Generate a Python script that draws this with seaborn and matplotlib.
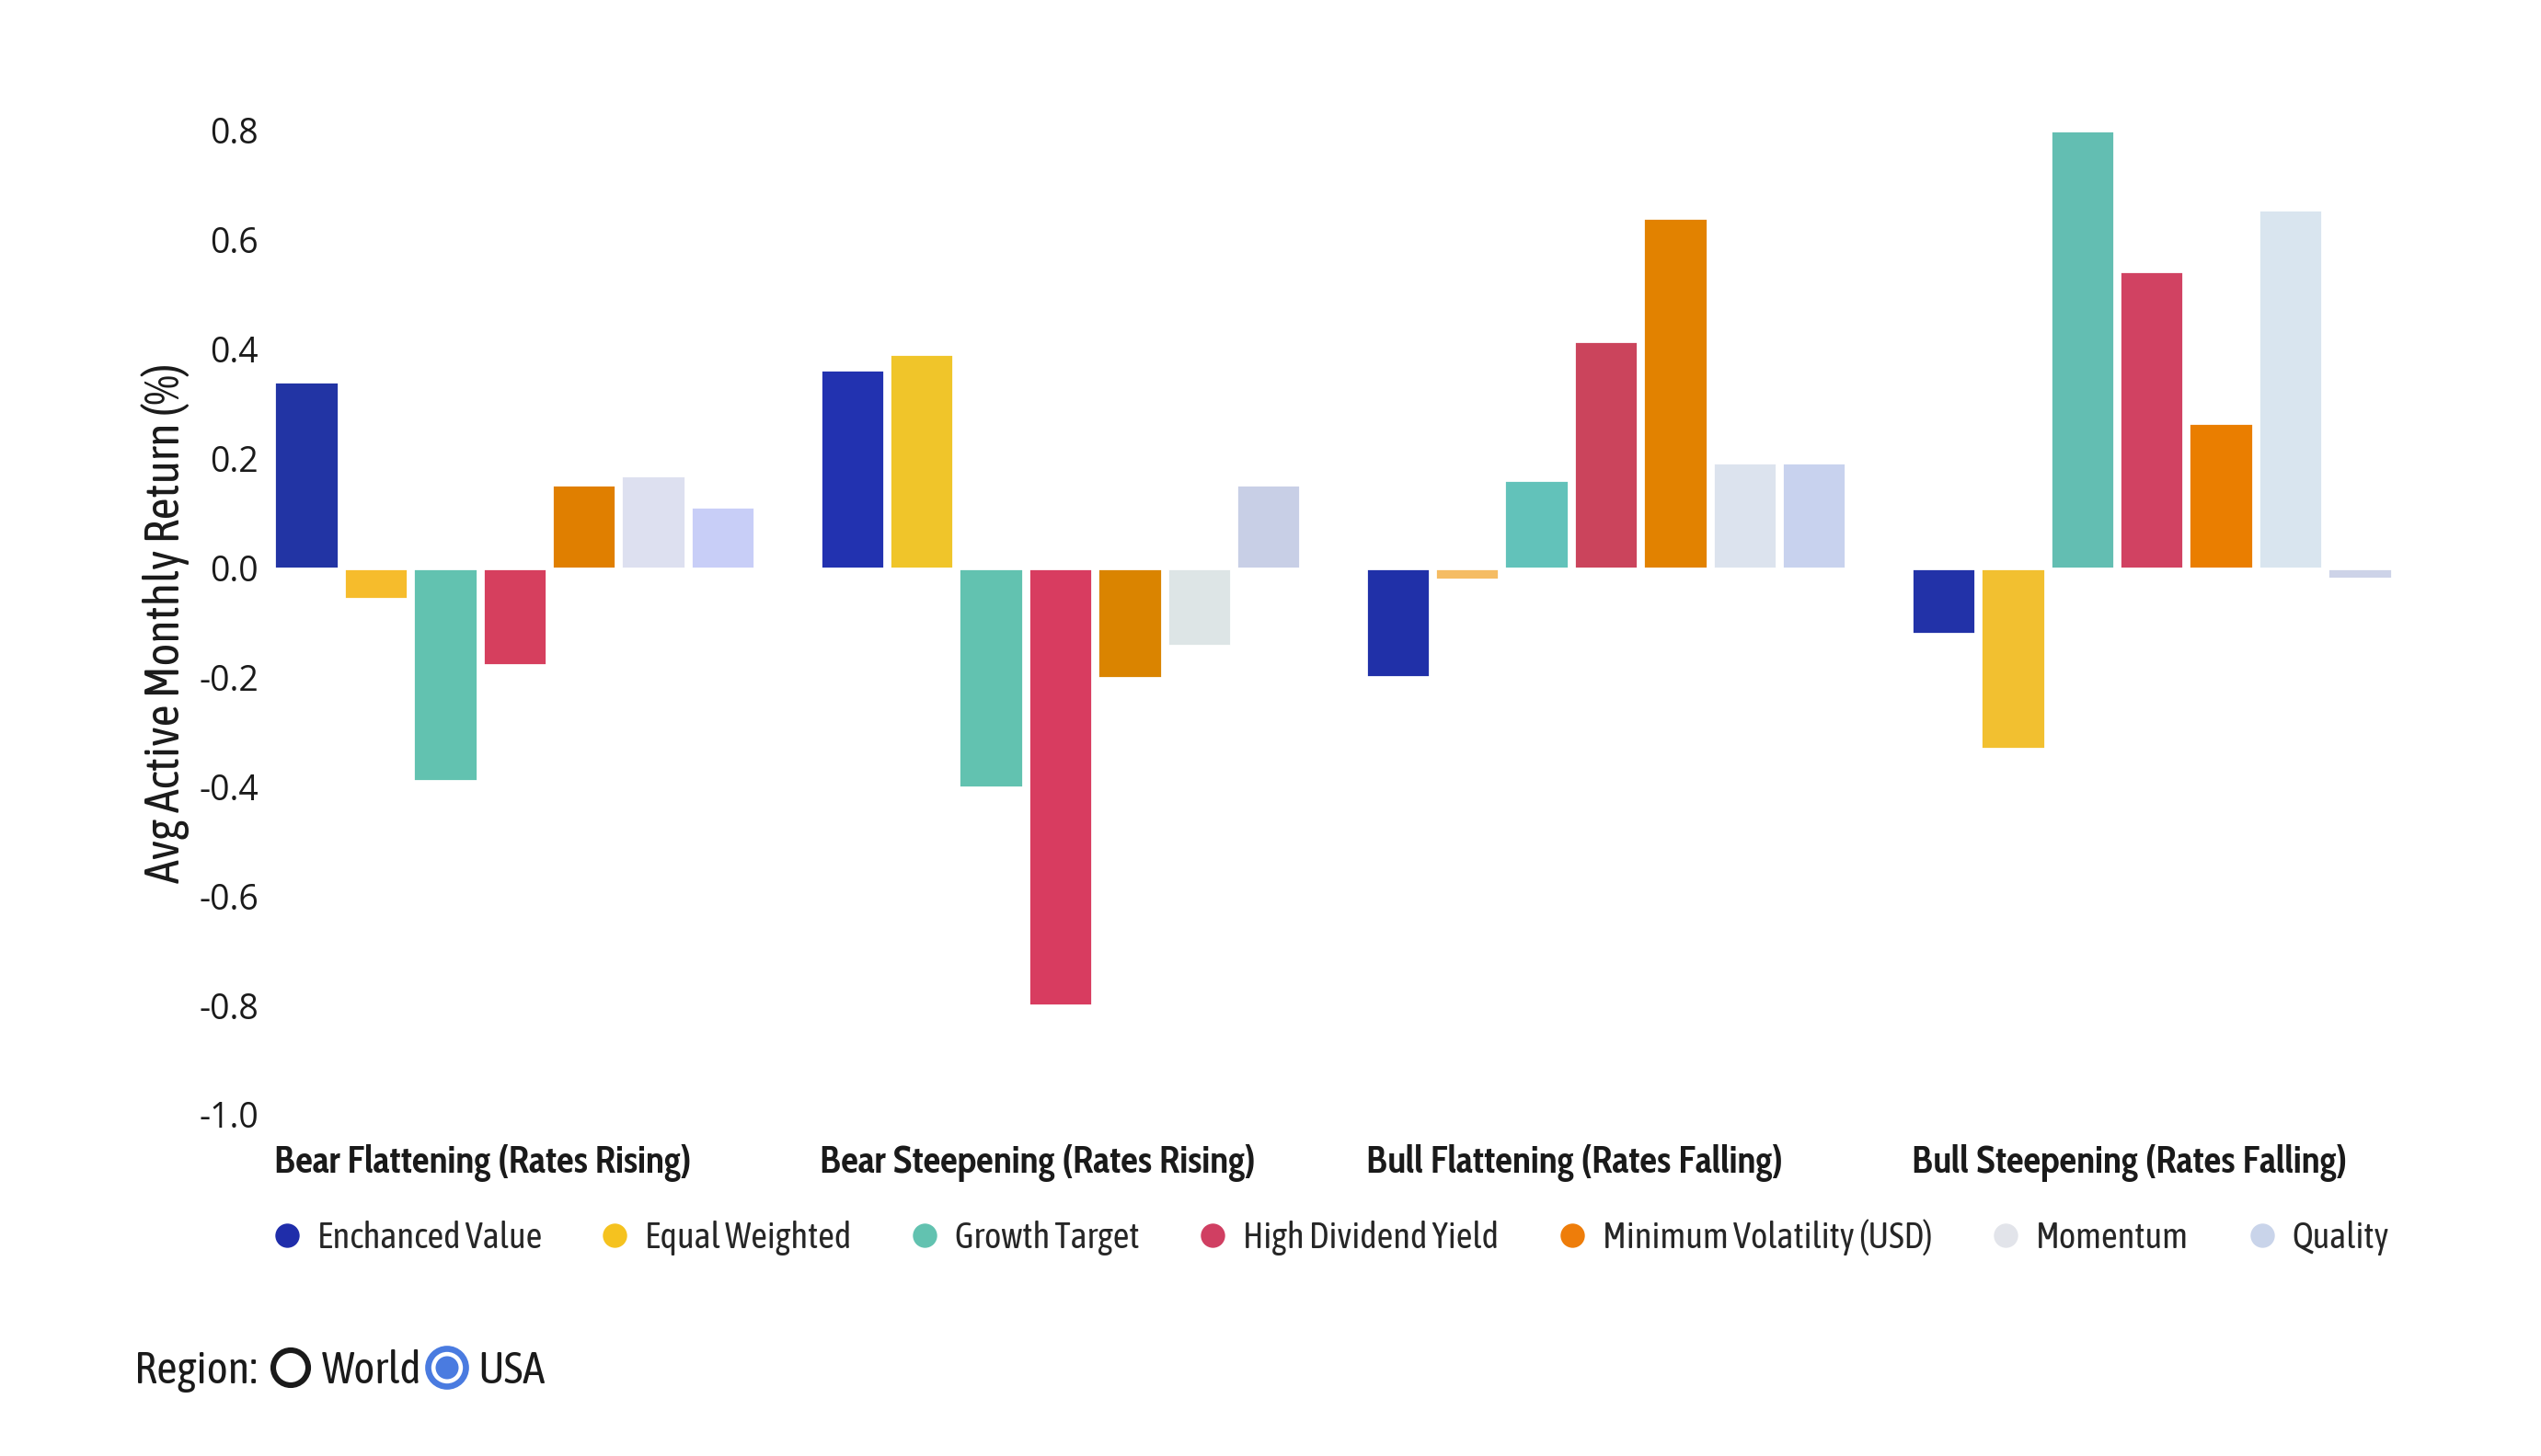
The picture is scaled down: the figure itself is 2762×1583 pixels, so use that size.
import numpy as np
import pandas as pd
import matplotlib
matplotlib.use('Agg')
import matplotlib.pyplot as plt
import seaborn as sns
from matplotlib.lines import Line2D
from matplotlib.patches import Circle

# Datos
categories = ['Bear Flattening (Rates Rising)', 'Bear Steepening (Rates Rising)',
              'Bull Flattening (Rates Falling)', 'Bull Steepening (Rates Falling)']
series = ['Enchanced Value', 'Equal Weighted', 'Growth Target', 'High Dividend Yield',
          'Minimum Volatility (USD)', 'Momentum', 'Quality']

enhanced_value = [0.34, 0.362, -0.20, -0.12]
equal_weighted = [-0.057, 0.391, -0.021, -0.331]
growth_target = [-0.39, -0.401, 0.161, 0.80]
high_dividend_yield = [-0.178, -0.799, 0.414, 0.543]
minimum_volatility = [0.152, -0.201, 0.640, 0.265]
momentum = [0.17, -0.142, 0.193, 0.656]
quality = [0.112, 0.153, 0.193, -0.02]

y_ticks = [-1.0, -0.8, -0.6, -0.4, -0.2, 0.0, 0.2, 0.4, 0.6, 0.8]
y_tick_labels = ['-1.0', '-0.8', '-0.6', '-0.4', '-0.2', '0.0', '0.2', '0.4', '0.6', '0.8']
regions = ['World', 'USA']

# Colores de la leyenda y tonos ligeramente distintos de cada barra en el original
colors = ['#1F2DAA', '#F5C21F', '#62C2B0', '#D03F62', '#EE7D0A', '#E2E4EA', '#C9D4EA']
bar_colors = {
    'Enchanced Value': ['#2234A4', '#2232B0', '#2030A8', '#2232A8'],
    'Equal Weighted': ['#F6BC2C', '#F0C52A', '#F5BC63', '#F2C030'],
    'Growth Target': ['#62C2B0', '#62C2B0', '#62C2BA', '#63BEB2'],
    'High Dividend Yield': ['#D63F5E', '#D83C60', '#CB445C', '#D14262'],
    'Minimum Volatility (USD)': ['#E07F00', '#DA8400', '#E28200', '#EA7E00'],
    'Momentum': ['#DDE0F0', '#DDE5E6', '#DCE3EE', '#D9E5EF'],
    'Quality': ['#C8CEF7', '#C8CFE6', '#C8D2EE', '#CDD3E8'],
}

values = [enhanced_value, equal_weighted, growth_target, high_dividend_yield,
          minimum_volatility, momentum, quality]
df = pd.DataFrame([
    {'scenario': cat, 'factor': name, 'value': vals[i]}
    for name, vals in zip(series, values)
    for i, cat in enumerate(categories)
])

# Estilo
sns.set_theme(style='white')
COND = ['Asap Condensed', 'DejaVu Sans']
BOLD = ['Cabin Condensed', 'DejaVu Sans']
plt.rcParams['font.family'] = COND

W, H, DPI = 2762, 1583, 200
fig = plt.figure(figsize=(W / DPI, H / DPI), dpi=DPI)
fig.patch.set_facecolor('white')
renderer = fig.canvas.get_renderer()


def fit_size(text, target_px, **kw):
    """Tamaño de fuente para que el texto mida target_px de ancho"""
    t = fig.text(0, 0, text, fontsize=10, **kw)
    w = t.get_window_extent(renderer).width
    t.remove()
    return 10 * target_px / w


cat_size = fit_size(categories[0], 455, family=BOLD, weight='bold')
leg_size = fit_size(series[0], 245, family=COND)
ylab_size = fit_size('Avg Active Monthly Return (%)', 566, family=COND)
reg_size = fit_size('Region:', 134, family=COND)

ax = fig.add_axes([289.5 / W, 1 - 1212 / H, 2319 / W, 1070 / H])
sns.barplot(data=df, x='scenario', y='value', hue='factor', order=categories,
            hue_order=series, palette=colors, width=0.89, gap=0.08,
            saturation=1, errorbar=None, legend=False, ax=ax)

# Tonos por barra
for name, cont in zip(series, ax.containers):
    for bar, c in zip(cont, bar_colors[name]):
        bar.set_facecolor(c)

ax.set_xlim(-0.455, 3.455)
ax.set_ylim(-1.0, 0.8)
ax.set_yticks(y_ticks)
ax.set_yticklabels(y_tick_labels, fontfamily='Open Sans', fontsize=13.5, color='#1a1a1a')
ax.set_xticks([i - 0.44 for i in range(len(categories))])
ax.set_xticklabels(categories, ha='left', fontfamily=BOLD, fontweight='bold',
                   fontsize=cat_size, color='#1a1a1a')
ax.tick_params(axis='x', length=0, pad=11.5)
ax.tick_params(axis='y', length=0, pad=3)
ax.set_xlabel('')
ax.set_ylabel('Avg Active Monthly Return (%)', fontsize=ylab_size, color='#1a1a1a')
ax.yaxis.set_label_coords(-0.036, 0.5)
for s in ax.spines.values():
    s.set_visible(False)
ax.grid(False)

# Leyenda con marcadores circulares
handles = [Line2D([], [], marker='o', ls='', markersize=9.5, color=c, markeredgewidth=0)
           for c in colors]
fig.legend(handles, series, loc='center left', bbox_to_anchor=(296 / W, 1 - 1345 / H),
           ncol=7, frameon=False, fontsize=leg_size, handlelength=0.8, handletextpad=0.45,
           columnspacing=1.65, borderpad=0, borderaxespad=0)

# Selector de región
ov = fig.add_axes([0, 0, 1, 1], zorder=-1)
ov.set_xlim(0, W)
ov.set_ylim(H, 0)
ov.axis('off')
row_y = 1490
ov.text(146, row_y, 'Region:', fontsize=reg_size, va='center', ha='left', color='#1a1a1a')
ov.add_patch(Circle((316, row_y - 3), 19, fill=False, lw=2.2, ec='#1a1a1a'))
ov.text(350, row_y, regions[0], fontsize=reg_size, va='center', ha='left', color='#1a1a1a')
ov.add_patch(Circle((486, row_y - 3), 20.5, fill=False, lw=2.4, ec='#4A7BE0'))
ov.add_patch(Circle((486, row_y - 3), 12.5, fill=True, lw=0, fc='#4A7BE0'))
ov.text(519, row_y, regions[1], fontsize=reg_size, va='center', ha='left', color='#1a1a1a')

fig.savefig('out.png', dpi=DPI, facecolor='white')
